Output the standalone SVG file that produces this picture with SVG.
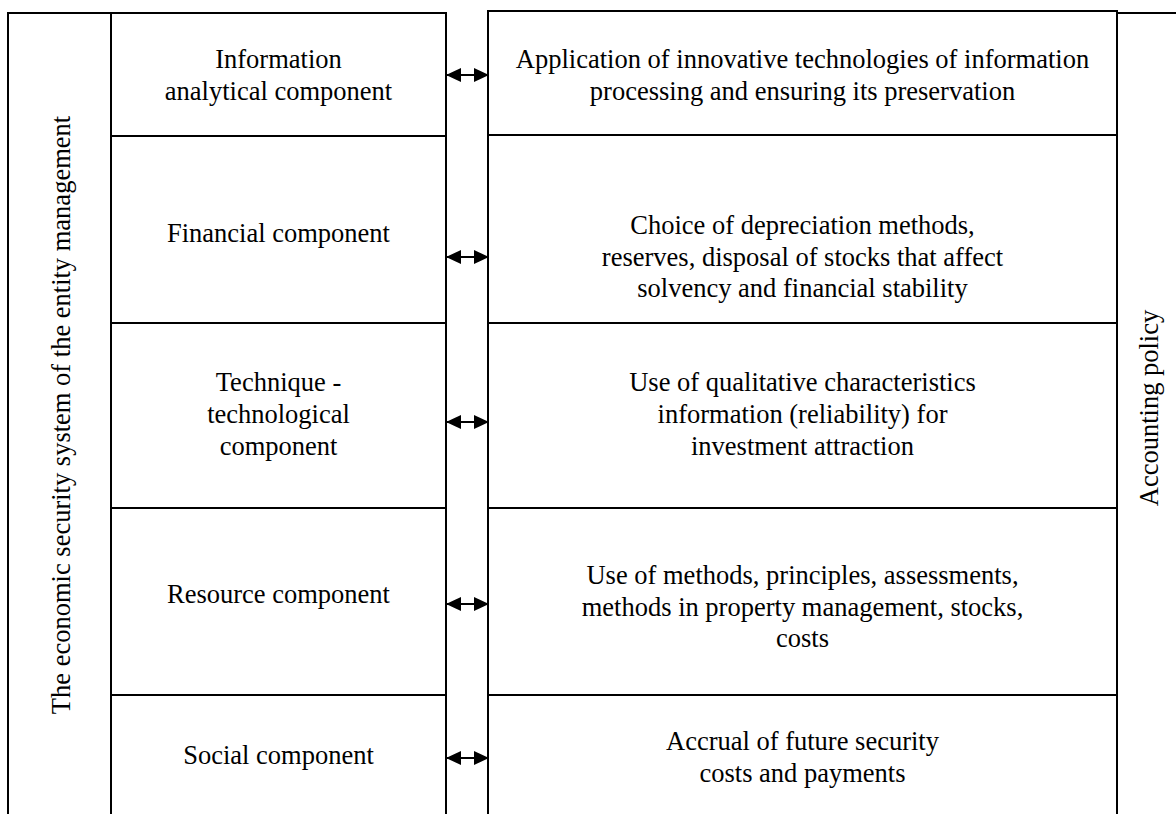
<svg xmlns="http://www.w3.org/2000/svg" width="1176" height="814" viewBox="0 0 1176 814">
<defs>
<style>
.b{fill:none;stroke:#000;stroke-width:2}
.t{font-family:"Liberation Serif","Times New Roman",serif;font-size:26.5px;fill:#000;text-anchor:middle}
.c{stroke:#000;stroke-width:2;fill:none;marker-start:url(#ah);marker-end:url(#ah)}
</style>
<marker id="ah" viewBox="0 0 15 14" refX="14" refY="7" markerWidth="15" markerHeight="14" markerUnits="userSpaceOnUse" orient="auto-start-reverse">
<path d="M0,0 L15,7 L0,14 Z" fill="#000"/>
</marker>
</defs>
<rect width="1176" height="814" fill="#fff"/>
<g id="system-frame">
<path class="b" d="M8,814 V13 H111"/>
<text class="t" transform="translate(70,415) rotate(-90)">The economic security system of the entity management</text>
</g>
<g id="policy-frame">
<path class="b" d="M1117,13 H1176"/>
<path class="b" d="M1117,11 V814"/>
<text class="t" transform="translate(1158,408) rotate(-90)">Accounting policy</text>
</g>
<g id="left-1"><rect class="b" x="111" y="13" width="335" height="123"/>
<text class="t" x="278.5" y="68">Information</text><text class="t" x="278.5" y="100">analytical component</text></g>
<g id="left-2"><rect class="b" x="111" y="136" width="335" height="187"/>
<text class="t" x="278.5" y="242">Financial component</text></g>
<g id="left-3"><rect class="b" x="111" y="323" width="335" height="185"/>
<text class="t" x="278.5" y="391">Technique -</text><text class="t" x="278.5" y="423">technological</text><text class="t" x="278.5" y="455">component</text></g>
<g id="left-4"><rect class="b" x="111" y="508" width="335" height="187"/>
<text class="t" x="278.5" y="603">Resource component</text></g>
<g id="left-5"><path class="b" d="M111,830 V695 H446 V830"/>
<text class="t" x="278.5" y="764">Social component</text></g>
<g id="right-1"><rect class="b" x="488" y="11" width="629" height="124"/>
<text class="t" x="802.5" y="68">Application of innovative technologies of information</text><text class="t" x="802.5" y="100">processing and ensuring its preservation</text></g>
<g id="right-2"><rect class="b" x="488" y="135" width="629" height="188"/>
<text class="t" x="802.5" y="234">Choice of depreciation methods,</text><text class="t" x="802.5" y="266">reserves, disposal of stocks that affect</text><text class="t" x="802.5" y="297">solvency and financial stability</text></g>
<g id="right-3"><rect class="b" x="488" y="323" width="629" height="185"/>
<text class="t" x="802.5" y="391">Use of qualitative characteristics</text><text class="t" x="802.5" y="423">information (reliability) for</text><text class="t" x="802.5" y="455">investment attraction</text></g>
<g id="right-4"><rect class="b" x="488" y="508" width="629" height="187"/>
<text class="t" x="802.5" y="584">Use of methods, principles, assessments,</text><text class="t" x="802.5" y="616">methods in property management, stocks,</text><text class="t" x="802.5" y="647">costs</text></g>
<g id="right-5"><path class="b" d="M488,830 V695 H1117"/>
<text class="t" x="802.5" y="750">Accrual of future security</text><text class="t" x="802.5" y="782">costs and payments</text></g>
<g id="connectors">
<line class="c" x1="447" y1="75" x2="488" y2="75"/>
<line class="c" x1="447" y1="257" x2="488" y2="257"/>
<line class="c" x1="447" y1="422" x2="488" y2="422"/>
<line class="c" x1="447" y1="604" x2="488" y2="604"/>
<line class="c" x1="447" y1="758" x2="488" y2="758"/>
</g>
</svg>
